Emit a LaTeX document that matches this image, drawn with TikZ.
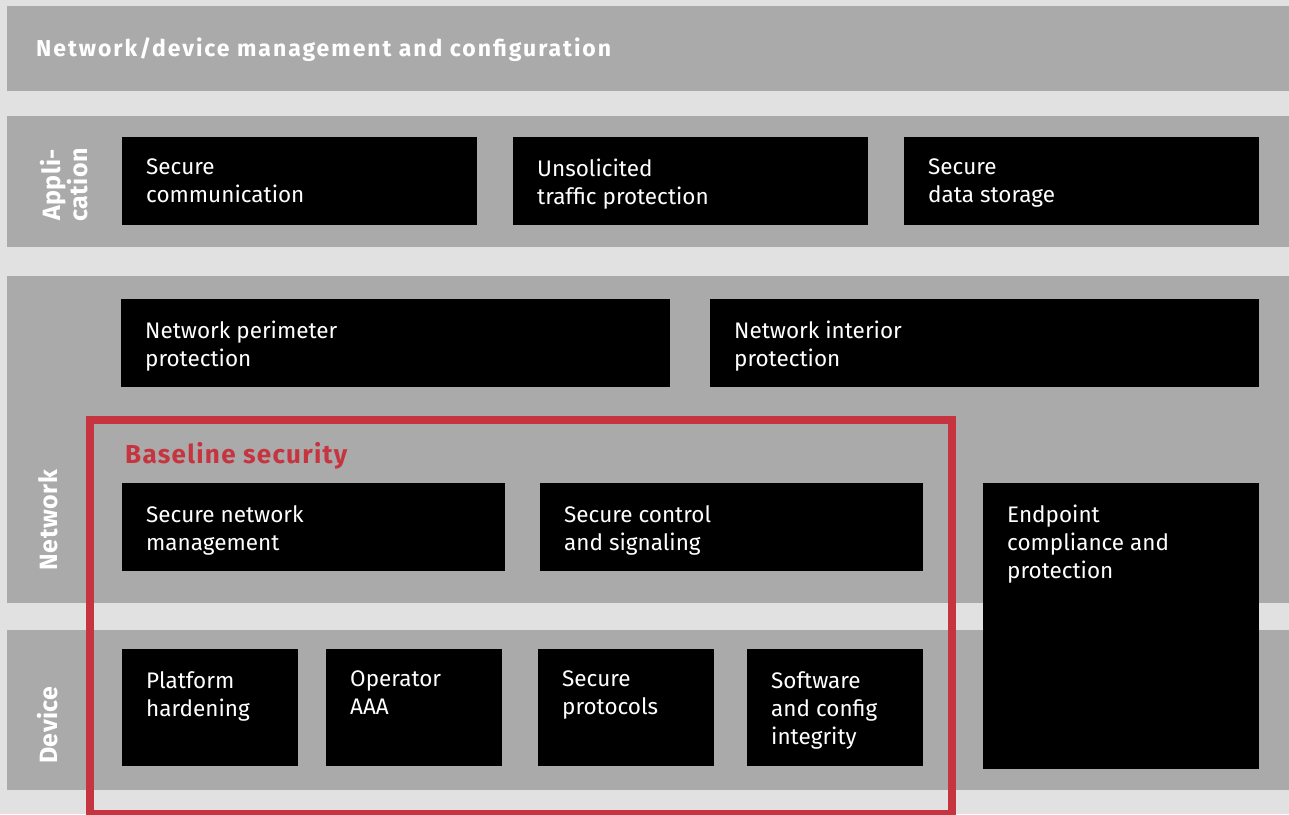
\documentclass[tikz,border=0pt]{standalone}
\usepackage{fontspec}
\setmainfont{Fira Sans}
\definecolor{pagebg}{HTML}{E1E1E1}
\definecolor{band}{HTML}{AAAAAA}
\definecolor{basered}{HTML}{C63440}
\tikzset{
  bandbox/.style={fill=band, draw=none},
  blk/.style={fill=black, draw=none, inner sep=0pt, anchor=north west},
  blktext/.style={anchor=north west, inner sep=0pt, text=white, align=left,
    font=\fontsize{22.5}{28}\selectfont},
  sidelabel/.style={rotate=90, text=white, align=center, inner sep=0pt,
    font=\bfseries\fontsize{25}{25}\selectfont\addfontfeature{LetterSpace=2}},
}
% black box with its caption: name, left, top, width, height, caption
\newcommand{\blkbox}[6]{%
  \node[blk, minimum width=#4, minimum height=#5] (#1) at (#2,#3) {};
  \node[blktext] (#1-t) at ([shift={(24pt,-22pt)}]#1.north west) {#6};
}
\begin{document}
\begin{tikzpicture}[x=1pt,y=-1pt]
\useasboundingbox (0,0) rectangle (1289,814);
\fill[pagebg] (0,0) rectangle (1289,814);

% layer bands
\fill[bandbox] (7,6) rectangle (1289,91);
\fill[bandbox] (7,116) rectangle (1289,247);
\fill[bandbox] (7,276) rectangle (1289,603);
\fill[bandbox] (7,630) rectangle (1289,790);

% top band title
\node[anchor=west, inner sep=0pt, text=white,
  font=\bfseries\fontsize{23}{26}\selectfont\addfontfeature{LetterSpace=8.5}]
  (mgmt) at (36,50) {Network/device management and configuration};

% layer names
\node[sidelabel] (lapp) at (64,185) {Appli-\\cation};
\node[sidelabel] (lnet) at (48,520) {Network};
\node[sidelabel] (ldev) at (48,725) {Device};

% application layer
\blkbox{seccomm}{122}{137}{355}{88}{Secure\\communication}
\blkbox{unsol}{513}{137}{355}{88}{Unsolicited\\traffic protection}
\blkbox{storage}{904}{137}{355}{88}{Secure\\data storage}

% network layer
\blkbox{perim}{121}{299}{549}{88}{Network perimeter\\protection}
\blkbox{interior}{710}{299}{549}{88}{Network interior\\protection}
\blkbox{netmgmt}{122}{483}{383}{88}{Secure network\\management}
\blkbox{ctrl}{540}{483}{383}{88}{Secure control\\and signaling}
\blkbox{endpoint}{983}{483}{276}{286}{Endpoint\\compliance and\\protection}

% device layer
\blkbox{platform}{122}{649}{176}{117}{Platform\\hardening}
\blkbox{aaa}{326}{649}{176}{117}{Operator\\AAA}
\blkbox{protocols}{538}{649}{176}{117}{Secure\\protocols}
\blkbox{integrity}{747}{649}{176}{117}{Software\\and config\\integrity}

% baseline security frame
\draw[basered, line width=7.5pt] (90,420) rectangle (952,813.5);
\node[anchor=base west, inner sep=0pt, text=basered,
  font=\bfseries\fontsize{26}{28}\selectfont\addfontfeature{LetterSpace=5}]
  (baseline) at (125,463) {Baseline security};
\end{tikzpicture}
\end{document}
